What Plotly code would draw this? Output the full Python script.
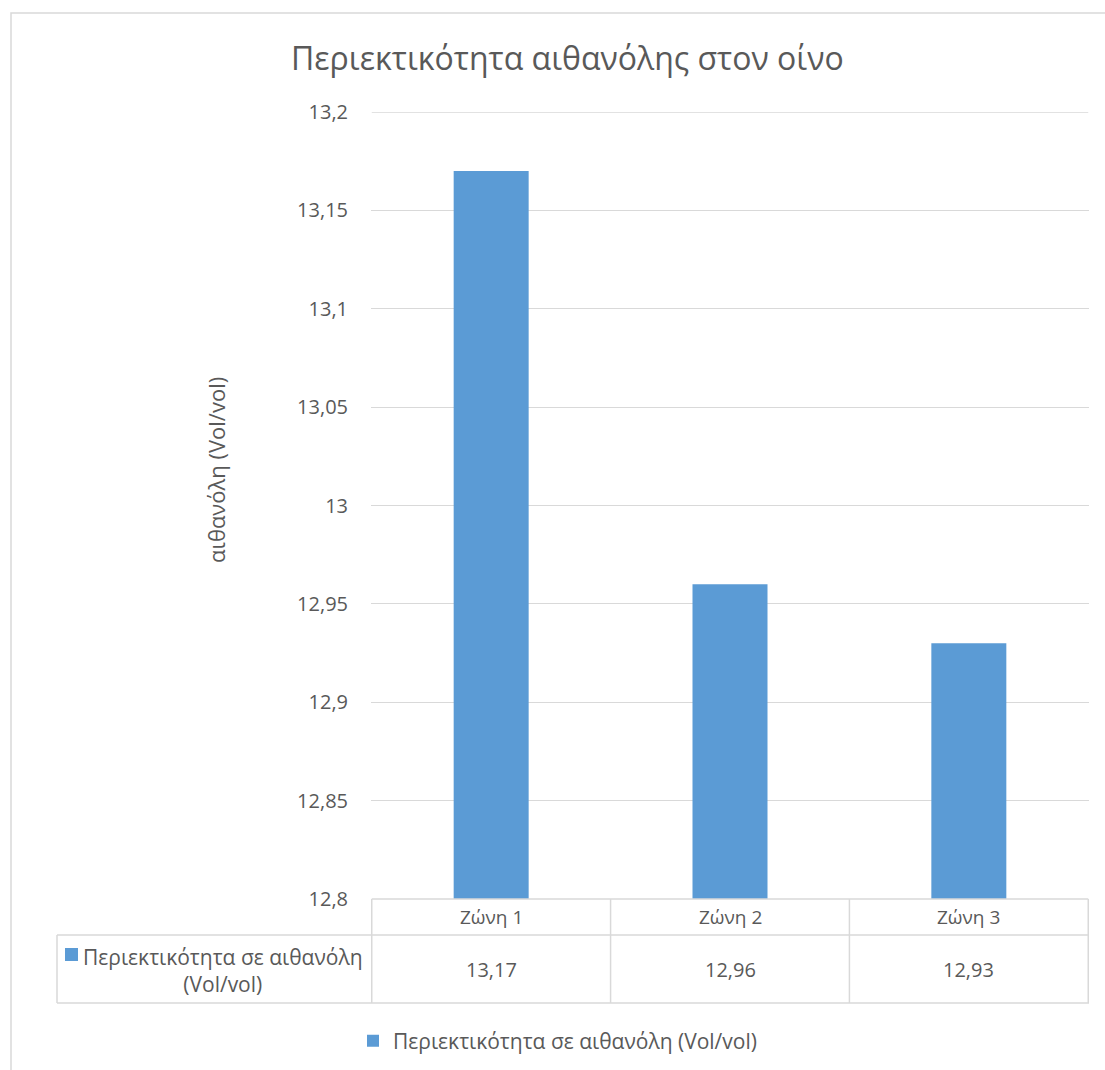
import plotly.graph_objects as go

# Ethanol content per zone
zones = ["Ζώνη 1", "Ζώνη 2", "Ζώνη 3"]
ethanol = [13.17, 12.96, 12.93]
series_name = "Περιεκτικότητα σε αιθανόλη (Vol/vol)"
table_row_label = "Περιεκτικότητα σε αιθανόλη<br>(Vol/vol)"
tick_vals = [12.8, 12.85, 12.9, 12.95, 13.0, 13.05, 13.1, 13.15, 13.2]
tick_labels = ["12,8", "12,85", "12,9", "12,95", "13", "13,05", "13,1", "13,15", "13,2"]

W, H = 1105, 1070
FONT = "Open Sans"
TXT = "#595959"
GRID = "#d9d9d9"
BAR = "#5b9bd5"


def px(x):
    return x / W


def py(y):
    return 1 - y / H


# plot area in pixels
PL, PR, PT, PB = 371, 1089, 112, 899
# data table rows
HDR_BOT, TBL_BOT, ROW_LEFT = 935, 1003, 57


def fmt(v):
    return f"{v:.2f}".replace(".", ",")


fig = go.Figure()
fig.add_trace(go.Bar(
    x=zones, y=ethanol, name=series_name,
    marker=dict(color=BAR, line=dict(width=0)),
    showlegend=True,
))

shapes = []
annotations = []

# outer chart frame
shapes.append(dict(type="rect", xref="paper", yref="paper",
                   x0=px(11), x1=px(W + 20), y0=py(13), y1=py(H + 20),
                   line=dict(color=GRID, width=1.5), fillcolor="rgba(0,0,0,0)"))

# top gridline at the upper end of the value range
shapes.append(dict(type="line", xref="x", yref="y", x0=-0.5, x1=len(zones) - 0.5,
                   y0=tick_vals[-1], y1=tick_vals[-1], layer="below",
                   line=dict(color=GRID, width=1.3)))

line_style = dict(color=GRID, width=1.5)
n = len(zones)
# table horizontal lines
shapes.append(dict(type="line", xref="x", yref="paper", x0=-0.5, x1=n - 0.5,
                   y0=py(PB), y1=py(PB), line=line_style))
shapes.append(dict(type="line", xref="paper", yref="paper", x0=px(ROW_LEFT), x1=px(PR),
                   y0=py(HDR_BOT), y1=py(HDR_BOT), line=line_style))
shapes.append(dict(type="line", xref="paper", yref="paper", x0=px(ROW_LEFT), x1=px(PR),
                   y0=py(TBL_BOT), y1=py(TBL_BOT), line=line_style))
# table vertical lines
shapes.append(dict(type="line", xref="paper", yref="paper", x0=px(ROW_LEFT), x1=px(ROW_LEFT),
                   y0=py(HDR_BOT), y1=py(TBL_BOT), line=line_style))
for i in range(n + 1):
    shapes.append(dict(type="line", xref="x", yref="paper", x0=i - 0.5, x1=i - 0.5,
                       y0=py(PB), y1=py(TBL_BOT), line=line_style))

# header and value cells
for i, (z, v) in enumerate(zip(zones, ethanol)):
    annotations.append(dict(x=i, xref="x", y=py((PB + HDR_BOT) / 2), yref="paper",
                            text=z, showarrow=False, xanchor="center", yanchor="middle",
                            font=dict(family=FONT, size=19, color=TXT)))
    annotations.append(dict(x=i, xref="x", y=py((HDR_BOT + TBL_BOT) / 2), yref="paper",
                            text=fmt(v), showarrow=False, xanchor="center", yanchor="middle",
                            font=dict(family=FONT, size=20, color=TXT)))

# row label with legend key
shapes.append(dict(type="rect", xref="paper", yref="paper",
                   x0=px(65), x1=px(78), y0=py(961), y1=py(948),
                   fillcolor=BAR, line=dict(width=0)))
annotations.append(dict(x=px(223), xref="paper", y=py(970), yref="paper",
                        text=table_row_label, showarrow=False, align="center",
                        xanchor="center", yanchor="middle",
                        font=dict(family=FONT, size=21, color=TXT)))

# y axis title
annotations.append(dict(x=px(216), xref="paper", y=py(470), yref="paper",
                        text="αιθανόλη (Vol/vol)", textangle=-90, showarrow=False,
                        xanchor="center", yanchor="middle",
                        font=dict(family=FONT, size=22, color=TXT)))

# chart title
annotations.append(dict(x=px(567), xref="paper", y=py(58), yref="paper",
                        text="Περιεκτικότητα αιθανόλης στον οίνο", showarrow=False,
                        xanchor="center", yanchor="middle",
                        font=dict(family=FONT, size=32, color=TXT)))

fig.update_layout(
    width=W, height=H,
    margin=dict(l=0, r=0, t=0, b=0, autoexpand=False),
    paper_bgcolor="white", plot_bgcolor="white",
    bargap=0.686,
    shapes=shapes, annotations=annotations,
    legend=dict(orientation="h", x=px(353), xanchor="left", y=py(1041), yanchor="middle",
                font=dict(family=FONT, size=21, color=TXT), bgcolor="rgba(0,0,0,0)"),
    xaxis=dict(domain=[px(PL), px(PR)], showticklabels=False, showgrid=False,
               showline=False, zeroline=False, ticks=""),
    yaxis=dict(domain=[py(PB), py(PT)], range=[12.8, 13.2], tickvals=tick_vals,
               ticktext=tick_labels, showgrid=True, gridcolor=GRID, gridwidth=1.3,
               zeroline=False, showline=False, ticks="", ticklabelstandoff=22,
               tickfont=dict(family=FONT, size=20, color=TXT)),
    hovermode=False,
)

fig.write_html("out.html")
